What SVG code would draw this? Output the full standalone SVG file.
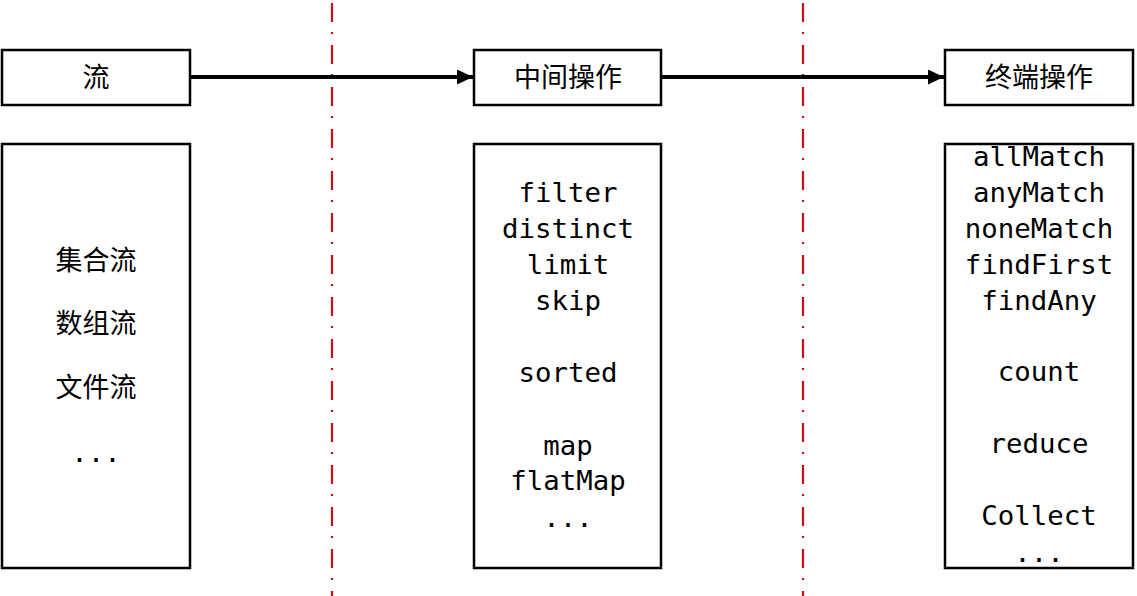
<svg xmlns="http://www.w3.org/2000/svg" width="1137" height="596" viewBox="0 0 1137 596">
<style>
.box{fill:#fff;stroke:#000;stroke-width:2.5}
.cjk{font-family:"Noto Sans CJK SC","Microsoft YaHei",sans-serif;font-size:27px;fill:#000;text-anchor:middle;dominant-baseline:central}
.mono{font-family:"DejaVu Sans Mono","Liberation Mono",monospace;font-size:27.4px;fill:#000;text-anchor:middle;dominant-baseline:central}
.div{stroke:#c8101a;stroke-width:2.2;stroke-dasharray:19 10 2 11;fill:none}
.conn{stroke:#000;stroke-width:4;fill:none}
</style>
<defs>
<marker id="ah" viewBox="0 0 16 15" refX="16" refY="7.5" markerWidth="16" markerHeight="15" orient="auto" markerUnits="userSpaceOnUse">
<path d="M0,0 L16,7.5 L0,15 z" fill="#000"/>
</marker>
</defs>
<g id="dividers">
<line class="div" x1="332" y1="3" x2="332" y2="596"/>
<line class="div" x1="803" y1="3" x2="803" y2="596"/>
</g>
<g id="connectors">
<line class="conn" x1="190" y1="77" x2="473" y2="77" marker-end="url(#ah)"/>
<line class="conn" x1="661" y1="77" x2="944" y2="77" marker-end="url(#ah)"/>
</g>
<g id="stream">
<rect class="box" x="2" y="50" width="188" height="55"/>
<text class="cjk" x="96" y="75">流</text>
</g>
<g id="intermediate">
<rect class="box" x="474" y="50" width="187" height="55"/>
<text class="cjk" x="568" y="75">中间操作</text>
</g>
<g id="terminal">
<rect class="box" x="945" y="50" width="188" height="55"/>
<text class="cjk" x="1039" y="75">终端操作</text>
</g>
<g id="stream-types">
<rect class="box" x="2" y="144" width="188" height="424"/>
<text class="cjk" x="96" y="258">集合流</text>
<text class="cjk" x="96" y="321">数组流</text>
<text class="cjk" x="96" y="385">文件流</text>
<text class="mono" x="96" y="452">...</text>
</g>
<g id="intermediate-ops">
<rect class="box" x="474" y="144" width="187" height="424"/>
<text class="mono" x="568" y="192">filter</text>
<text class="mono" x="568" y="228">distinct</text>
<text class="mono" x="568" y="264">limit</text>
<text class="mono" x="568" y="300">skip</text>
<text class="mono" x="568" y="372">sorted</text>
<text class="mono" x="568" y="445">map</text>
<text class="mono" x="568" y="480">flatMap</text>
<text class="mono" x="568" y="517">...</text>
</g>
<g id="terminal-ops">
<rect class="box" x="945" y="144" width="188" height="424"/>
<text class="mono" x="1039" y="156">allMatch</text>
<text class="mono" x="1039" y="192">anyMatch</text>
<text class="mono" x="1039" y="228">noneMatch</text>
<text class="mono" x="1039" y="264">findFirst</text>
<text class="mono" x="1039" y="300">findAny</text>
<text class="mono" x="1039" y="371">count</text>
<text class="mono" x="1039" y="443">reduce</text>
<text class="mono" x="1039" y="515">Collect</text>
<text class="mono" x="1039" y="552">...</text>
</g>
</svg>
